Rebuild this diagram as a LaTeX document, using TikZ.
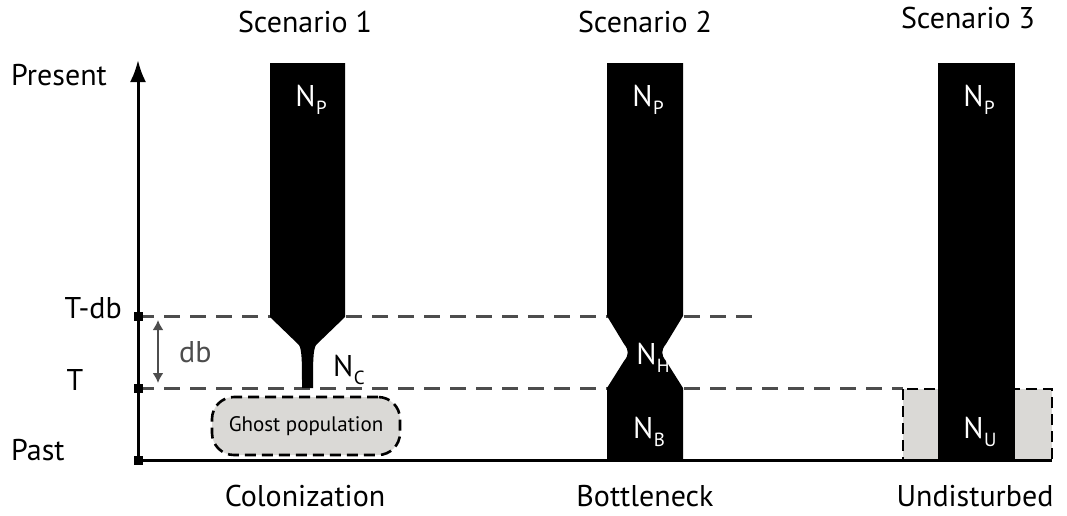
\documentclass[tikz,border=0pt]{standalone}
\usepackage{fontspec}
\setmainfont{PT Sans}
\usetikzlibrary{arrows.meta}
\definecolor{ghost}{HTML}{DAD9D6}
\definecolor{guide}{HTML}{4D4D4D}
\newcommand{\Nsub}[1]{N\kern0.5pt\raisebox{-0.5ex}{\fontsize{19}{19}\selectfont #1}}
\begin{document}
\begin{tikzpicture}[x=1pt,y=-1pt,
  every node/.style={inner sep=0pt},
  lbl/.style={font=\fontsize{30}{32}\selectfont},
  poplbl/.style={font=\fontsize{30}{32}\selectfont, text=white},
  guideline/.style={draw=guide, line width=3pt, dash pattern=on 16pt off 10pt},
  ghostline/.style={draw=black, line width=2.6pt, dash pattern=on 11pt off 6pt, fill=ghost},
  tick/.style={fill=black, minimum size=9pt},
  pop/.style={fill=black}]
\useasboundingbox (0,0) rectangle (1067,515);

% time levels
\coordinate (ax0) at (138,460);
\coordinate (axtop) at (138,60);
\coordinate (tdb) at (138,316);
\coordinate (tt) at (138,388);

% guide lines at T-db and T
\draw[guideline] (tdb) -- (752,316);
\draw[guideline] (tt) -- (903,388);

% ghost source populations
\node[ghostline, rounded corners=22pt, minimum width=188pt, minimum height=58pt,
  font=\fontsize{21}{23}\selectfont] (ghost) at (306,426) {Ghost population};
\draw[ghostline] (903,389) rectangle (1052,460);

% Scenario 1: colonization
\fill[pop] (270,63) -- (345,63) -- (345,317) -- (316,345)
  .. controls (313,350) and (313,362) .. (313,388) -- (302,388)
  .. controls (302,362) and (302,350) .. (299,345) -- (270,317) -- cycle;
% Scenario 2: bottleneck
\fill[pop] (607,63) -- (683,63) -- (683,316) -- (666,344)
  .. controls (661,350) and (661,355) .. (666,361) -- (683,388) -- (683,460)
  -- (607,460) -- (607,388) -- (624,361)
  .. controls (629,355) and (629,350) .. (624,344) -- (607,316) -- cycle;
% Scenario 3: undisturbed
\fill[pop] (938,63) rectangle (1015,460);

% axes
\draw[line width=3pt] (ax0) -- (1052,460);
\draw[line width=3pt, -{Latex[length=22pt,width=16pt]}] (ax0) -- (axtop);
\node[tick] (k1) at (tdb) {};
\node[tick] (k2) at (tt) {};
\node[tick] (k3) at (ax0) {};

% duration of the bottleneck
\coordinate (dbtop) at (158,320);
\coordinate (dbbot) at (158,383);
\draw[guide, line width=2.2pt, {Latex[length=10pt,width=11pt]}-{Latex[length=10pt,width=11pt]}] (dbtop) -- (dbbot);
\node[lbl, text=guide, anchor=west] (db) at (179,352) {db};

% axis labels
\node[lbl, anchor=west] (present) at (11,75) {Present};
\node[lbl, anchor=east] (tdblbl) at (122,308) {T-db};
\node[lbl] (tlbl) at (75,380) {T};
\node[lbl, anchor=west] (past) at (11,450) {Past};

% titles
\node[lbl] (s1) at (305,22) {Scenario 1};
\node[lbl] (s2) at (645,22) {Scenario 2};
\node[lbl] (s3) at (968,18) {Scenario 3};
\node[lbl] (c1) at (305,496) {Colonization};
\node[lbl] (c2) at (645,496) {Bottleneck};
\node[lbl] (c3) at (975,496) {Undisturbed};

% population sizes
\node[poplbl] (np1) at (311,100) {\Nsub{P}};
\node[poplbl] (np2) at (648,100) {\Nsub{P}};
\node[poplbl] (np3) at (979,100) {\Nsub{P}};
\node[lbl] (nc) at (349,370) {\Nsub{C}};
\node[poplbl] (nh) at (653,358) {\Nsub{H}};
\node[poplbl] (nb) at (649,432) {\Nsub{B}};
\node[poplbl] (nu) at (980,432) {\Nsub{U}};
\end{tikzpicture}
\end{document}
